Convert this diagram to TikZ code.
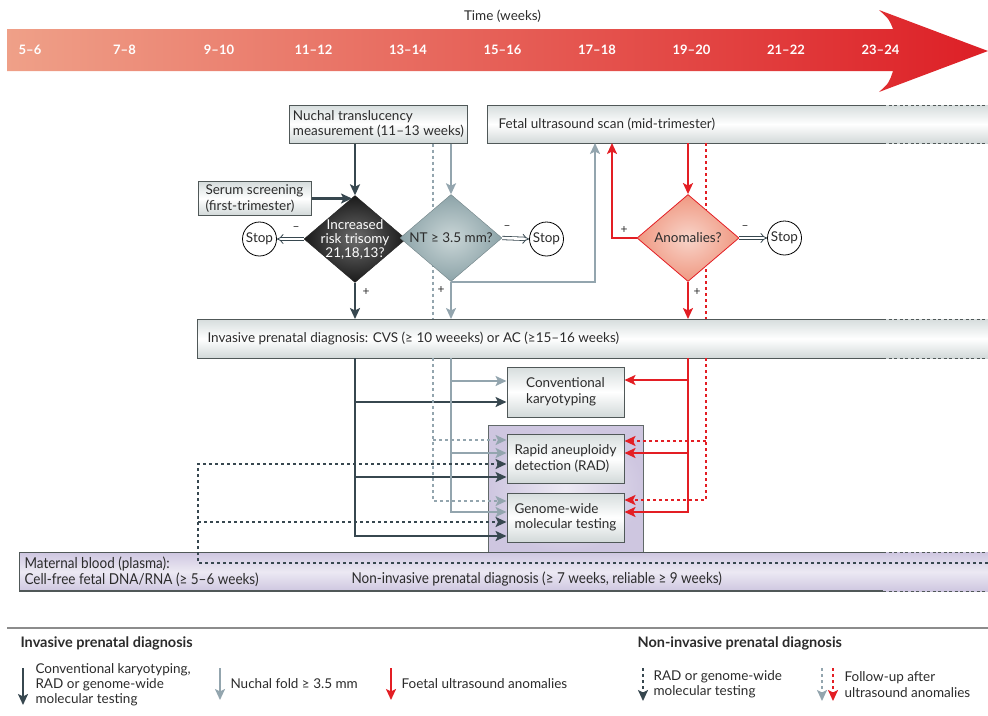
\documentclass[tikz,border=0pt]{standalone}
\usepackage{fontspec}
\setmainfont{Lato}
\newfontfamily\condfont[FakeStretch=0.9]{Lato}
\usetikzlibrary{arrows.meta,shapes.geometric}
\definecolor{dkc}{HTML}{37474F}
\definecolor{gyc}{HTML}{93A5AE}
\definecolor{rdc}{HTML}{E31E24}
\definecolor{bordc}{HTML}{505858}
\definecolor{boxtop}{HTML}{D6DDDD}
\definecolor{boxbot}{HTML}{D2D9D9}
\definecolor{arrL}{HTML}{EFA088}
\definecolor{arrR}{HTML}{DD1F26}
\definecolor{purpO}{HTML}{CEC6E0}
\definecolor{purpI}{HTML}{ECE9F3}
\definecolor{txtc}{HTML}{2B2B2B}
\definecolor{ntO}{HTML}{8CA3A8}
\definecolor{ntI}{HTML}{CAD6D7}
\tikzset{
  box/.style={draw=bordc, line width=1pt, top color=boxtop, bottom color=boxbot, middle color=white, inner sep=3pt, text=txtc},
  barg/.style={top color=boxtop, bottom color=boxbot, middle color=white, inner sep=0pt},
  barp/.style={top color=purpO, bottom color=purpO, middle color=purpI, inner sep=0pt},
  bord/.style={draw=bordc, line width=1pt},
  bordd/.style={draw=bordc, line width=1pt, dash pattern=on 3pt off 2.5pt},
  wk/.style={text=white, font=\bfseries\fontsize{13}{15}\selectfont},
  tip/.style={-{Stealth[length=11pt,width=10pt,inset=2.5pt]}},
  con/.style={line width=2.3pt},
  dotl/.style={line width=2.3pt, dash pattern=on 3pt off 3pt},
  dk/.style={con, draw=dkc},
  gy/.style={con, draw=gyc},
  rd/.style={con, draw=rdc},
  dkd/.style={dotl, draw=dkc},
  gyd/.style={dotl, draw=gyc},
  rdd/.style={dotl, draw=rdc},
  dia/.style={diamond, inner sep=0pt, minimum width=102pt, minimum height=87pt},
  stopn/.style={circle, draw=black, line width=0.8pt, fill=white, minimum size=34pt, inner sep=0pt, text=txtc},
  dbl/.style={draw=dkc, line width=0.8pt, double=white, double distance=2.6pt, -{Implies}},
  pm/.style={text=txtc, font=\fontsize{12}{12}\selectfont, inner sep=1pt},
  cond/.style={anchor=west, text=txtc, font=\condfont\fontsize{15}{17}\selectfont},
}
\begin{document}
\begin{tikzpicture}[x=1pt,y=-1pt, font=\fontsize{13.5}{15.5}\selectfont]
\useasboundingbox (0,0) rectangle (988,715);

% time arrow
\shade[left color=arrL, right color=arrR] (7,29) -- (893,29) .. controls (889,19) .. (879,10) -- (988,51) -- (879,92) .. controls (889,83) .. (893,71) -- (7,71) -- cycle;
\node[text=txtc] (time) at (502.5,16) {Time (weeks)};
\foreach \t [count=\i from 0] in {5–6,7–8,9–10,11–12,13–14,15–16,17–18,19–20,21–22,23–24}
  \node[wk] (w\i) at ({30+94.5*\i},50) {\t};

% boxes
\node[box, minimum width=177pt, minimum height=38pt, align=left] (nuch) at (378.5,124) {Nuchal translucency\\measurement (11–13 weeks)};
\node[box, minimum width=113pt, minimum height=33pt, align=left] (serum) at (254.5,198.5) {Serum screening\\(first-trimester)};

% fetal bar
\node[barg, minimum width=501pt, minimum height=38pt, anchor=north west] (fetal) at (487,105) {};
\draw[bord] (883,105) -- (487,105) -- (487,143) -- (883,143);
\draw[bordd] (883,105) -- (988,105) (883,143) -- (988,143);
\node[anchor=west, text=txtc] (fetalt) at (495,124) {Fetal ultrasound scan (mid-trimester)};

% invasive bar
\node[barg, minimum width=791pt, minimum height=39pt, anchor=north west] (inv) at (197,319) {};
\draw[bord] (883,319) -- (197,319) -- (197,358) -- (883,358);
\draw[bordd] (883,319) -- (988,319) (883,358) -- (988,358);
\node[anchor=west, text=txtc] (invt) at (204,338.5) {Invasive prenatal diagnosis: CVS (≥ 10 weeeks) or AC (≥15–16 weeks)};

% purple box and tests
\node[draw=bordc!90, line width=1pt, inner color=purpI, outer color=purpO, minimum width=155pt, minimum height=127pt, inner sep=0pt] (purp) at (565.5,488.5) {};
\node[box, minimum width=117pt, minimum height=50pt, align=left] (conv) at (565.5,392) {Conventional\\karyotyping};
\node[box, minimum width=117pt, minimum height=49pt, align=left] (rad) at (565.5,458.5) {Rapid aneuploidy\\detection (RAD)};
\node[box, minimum width=117pt, minimum height=49pt, align=left] (gen) at (565.5,517.5) {Genome-wide\\molecular testing};

% blood bar
\node[barp, minimum width=969pt, minimum height=39pt, anchor=north west] (blood) at (19,552) {};
\draw[bord] (883,552) -- (19,552) -- (19,591) -- (883,591);
\draw[bord, line width=1.8pt] (19,591) -- (883,591);
\draw[bordd] (883,552) -- (988,552) (883,591) -- (988,591);
\node[cond] (bl1) at (21,563.5) {Maternal blood (plasma):};
\node[cond] (bl2) at (21,579.5) {Cell-free fetal DNA/RNA (≥ 5–6 weeks)};
\node[cond] (bl3) at (348,579.5) {Non-invasive prenatal diagnosis (≥ 7 weeks, reliable ≥ 9 weeks)};

% column coordinates
\coordinate (cGd) at (433,0);
\coordinate (cRd) at (706,0);
\coordinate (uG) at (595,143);
\coordinate (uR) at (612,143);

% dotted verticals behind diamonds
\draw[gyd] (nuch.south -| cGd) -- (inv.north -| cGd);
\draw[rdd] (fetal.south -| cRd) -- (inv.north -| cRd);

% diamonds
\node[dia, draw=black!85, inner color=black!58, outer color=black!90] (d1) at (355,239) {};
\node[text=white, align=center, font=\fontsize{13.5}{14}\selectfont] (d1t) at (d1) {Increased\\risk trisomy\\21,18,13?};
\node[dia, draw=ntO!80!black, inner color=ntI, outer color=ntO] (d2) at (451,238) {};
\node[text=txtc] (d2t) at (d2) {NT ≥ 3.5 mm?};
\node[dia, draw=rdc, line width=0.8pt, inner color=arrL!45, outer color=arrL!95!red] (d3) at (688,238) {};
\node[text=txtc] (d3t) at (d3) {Anomalies?};

% stops
\node[stopn] (s1) at (259.5,239) {Stop};
\node[stopn] (s2) at (546.5,239) {Stop};
\node[stopn] (s3) at (784.5,238) {Stop};
\draw[dbl] (d1.west) -- (s1.east);
\draw[dbl] (d2.east) -- (s2.west);
\draw[dbl] (d3.east) -- (s3.west);
\node[pm] (m1) at (296,229) {–};
\node[pm] (m2) at (507,228) {–};
\node[pm] (m3) at (745,228) {–};

% dark solid
\draw[dk, tip] (nuch.south -| d1) -- (d1.north);
\draw[dk, tip, shorten >=3pt] (serum.east) -- (serum.east -| d1.north);
\draw[dk, tip] (d1.south) -- (inv.north -| d1);
\node[pm] (p1) at (366,292) {+};
\coordinate (jD1) at (355,402);
\coordinate (jD2) at (355,477);
\draw[dk, tip] (inv.south -| d1) |- ([yshift=-18.5pt]gen.west);
\draw[dk, tip] (jD1) -- (jD1 -| conv.west);
\draw[dk, tip] (jD2) -- (jD2 -| rad.west);

% grey solid
\draw[gy, tip] (nuch.south -| d2) -- (d2.north);
\draw[gy, tip] (d2.south) -- (inv.north -| d2);
\draw[gy, tip] (d2.south) -| (uG);
\node[pm] (p2) at (441,290) {+};
\draw[gy, tip] (inv.south -| d2) |- ([yshift=5.5pt]gen.west);
\draw[gy, tip] ([yshift=11pt]conv.west -| d2) -- ([yshift=11pt]conv.west);
\draw[gy, tip] ([yshift=5.5pt]rad.west -| d2) -- ([yshift=5.5pt]rad.west);

% grey dotted
\draw[gyd, tip] (inv.south -| cGd) |- ([yshift=16.5pt]gen.west);
\draw[gyd, tip] ([yshift=18.5pt]rad.west -| cGd) -- ([yshift=18.5pt]rad.west);

% red solid
\draw[rd, tip] (fetal.south -| d3) -- (d3.north);
\draw[rd, tip] (d3.west) -| (uR);
\node[pm] (p3) at (624,230) {+};
\draw[rd, tip] (d3.south) -- (inv.north -| d3);
\node[pm] (p4) at (697,292) {+};
\draw[rd, tip] (inv.south -| d3) |- ([yshift=5.5pt]gen.east);
\draw[rd, tip] ([yshift=12pt]conv.east -| d3) -- ([yshift=12pt]conv.east);
\draw[rd, tip] ([yshift=5.5pt]rad.east -| d3) -- ([yshift=5.5pt]rad.east);

% red dotted
\draw[rdd, tip] (inv.south -| cRd) |- ([yshift=17.5pt]gen.east);
\draw[rdd, tip] ([yshift=17.5pt]rad.east -| cRd) -- ([yshift=17.5pt]rad.east);

% dark dotted from maternal blood
\coordinate (bR) at (988,563);
\coordinate (bC) at (198,522);
\draw[dkd, tip] (bR) -| (bC) |- ([yshift=-5.5pt]rad.west);
\draw[dkd, tip] (bC) -- (bC -| gen.west);

% legend
\draw[line width=1.5pt, draw=black!45] (7,628) -- (988,628);
\node[anchor=west, text=txtc, font=\bfseries\fontsize{14.5}{16}\selectfont] (lh1) at (17,643) {Invasive prenatal diagnosis};
\node[anchor=west, text=txtc, font=\bfseries\fontsize{14.5}{16}\selectfont] (lh2) at (634,643) {Non-invasive prenatal diagnosis};
\draw[dk, tip] (23,668) -- (23,705);
\node[anchor=west, align=left, text=txtc, font=\fontsize{13.5}{15}\selectfont] (lt1) at (32,685) {Conventional karyotyping,\\RAD or genome-wide\\molecular testing};
\draw[gy, tip] (220,668) -- (220,700);
\node[anchor=west, text=txtc] (lt2) at (227,684) {Nuchal fold ≥ 3.5 mm};
\draw[rd, tip] (391,668) -- (391,700);
\node[anchor=west, text=txtc] (lt3) at (398,684) {Foetal ultrasound anomalies};
\draw[dkd, tip] (643,668) -- (643,701);
\node[anchor=west, align=left, text=txtc, font=\fontsize{13.5}{15.5}\selectfont] (lt4) at (650,684.5) {RAD or genome-wide\\molecular testing};
\draw[gyd, tip] (822,668) -- (822,701);
\draw[rdd, tip] (833,668) -- (833,701);
\node[anchor=west, align=left, text=txtc, font=\fontsize{13.5}{15.5}\selectfont] (lt5) at (841,684.5) {Follow-up after\\ultrasound anomalies};
\end{tikzpicture}
\end{document}
